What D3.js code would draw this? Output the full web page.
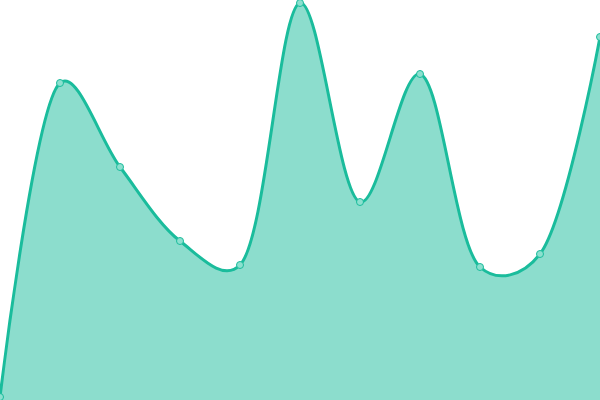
<!DOCTYPE html>
<html lang="en">
<head>
    <meta charset="UTF-8">
    <title>Area chart</title>
    <script src="https://d3js.org/d3.v7.min.js"></script>
    <style>
        body { margin: 0; background: #fff; }
    </style>
</head>
<body>
    <div id="chart"></div>
    <script>
        // values
        const labels = ["A", "B", "C", "D", "E", "F", "G", "H", "I", "J", "K"];
        const values = [3, 317, 233, 159, 135, 397, 198, 326, 133, 146, 363];

        const data = labels.map((l, i) => ({ label: l, value: values[i] }));

        const width = 600;
        const height = 400;

        const x = d3.scalePoint()
            .domain(labels)
            .range([0, width]);

        const y = d3.scaleLinear()
            .domain([0, 400])
            .range([height, 0]);

        const svg = d3.select("#chart")
            .append("svg")
            .attr("width", width)
            .attr("height", height)
            .style("display", "block");

        const curve = d3.curveCatmullRom.alpha(0.3);

        const area = d3.area()
            .x(d => x(d.label))
            .y0(height)
            .y1(d => y(d.value))
            .curve(curve);

        const line = d3.line()
            .x(d => x(d.label))
            .y(d => y(d.value))
            .curve(curve);

        svg.append("path")
            .datum(data)
            .attr("d", area)
            .attr("fill", "#1abc9c")
            .attr("fill-opacity", 0.5);

        svg.append("path")
            .datum(data)
            .attr("d", line)
            .attr("fill", "none")
            .attr("stroke", "#1abc9c")
            .attr("stroke-width", 3);

        // small dots on each value
        svg.selectAll(".dot")
            .data(data)
            .enter()
            .append("circle")
            .attr("class", "dot")
            .attr("cx", d => x(d.label))
            .attr("cy", d => y(d.value))
            .attr("r", 3.5)
            .attr("fill", "#8ce0cf")
            .attr("stroke", "#1abc9c")
            .attr("stroke-width", 1);
    </script>
</body>
</html>
